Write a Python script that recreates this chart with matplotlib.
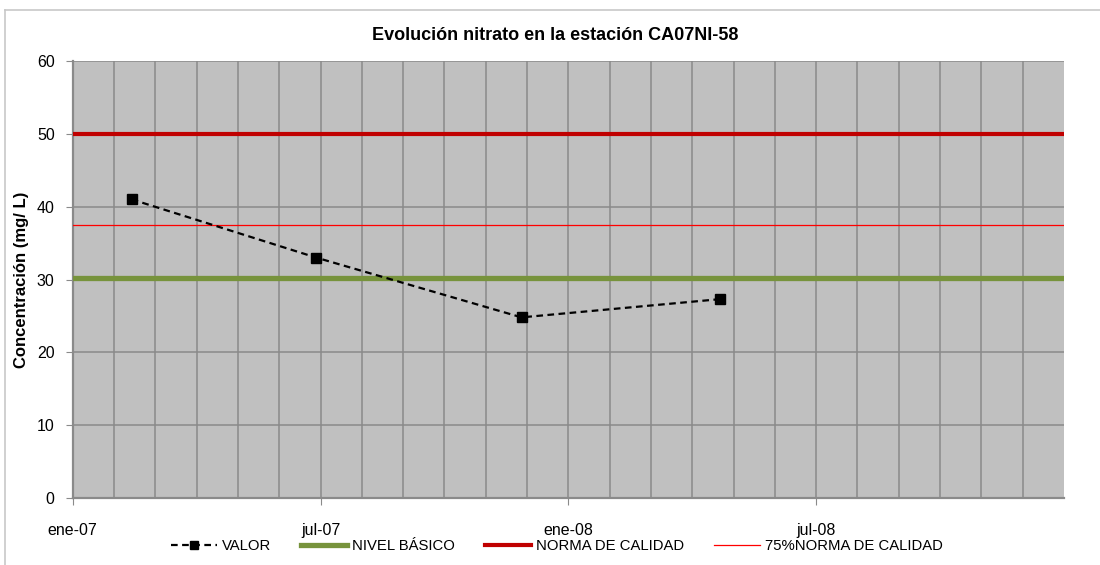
import matplotlib
matplotlib.use("Agg")
import matplotlib.pyplot as plt
from matplotlib.lines import Line2D
from matplotlib.ticker import MultipleLocator, FixedLocator
import calendar

plt.rcParams['font.family'] = ['Liberation Sans', 'DejaVu Sans']

# ---- data ----
fechas = [(2007, 2, 13), (2007, 6, 28), (2007, 11, 27), (2008, 4, 21)]
valor = [41.0, 33.0, 24.8, 27.3]
nivel_basico = 30.2
norma_calidad = 50.0
norma_75 = 37.5
titulo = "Evolución nitrato en la estación CA07NI-58"
ylabel = "Concentración (mg/ L)"
leyenda = ["VALOR", "NIVEL BÁSICO", "NORMA DE CALIDAD", "75%NORMA DE CALIDAD"]
xtick_labels = ["ene-07", "jul-07", "ene-08", "jul-08"]
inicio_anio = 2007
n_meses = 24


def mes_continuo(f):
    y, m, d = f
    return (y - inicio_anio) * 12 + (m - 1) + (d - 1) / calendar.monthrange(y, m)[1]


xs = [mes_continuo(f) for f in fechas]

W, H = 1100, 565
fig = plt.figure(figsize=(W / 100, H / 100), dpi=100)
ax = fig.add_axes([72.7 / W, 1 - 498 / H, (1064 - 72.7) / W, (498 - 61) / H])
ax.set_facecolor('#C0C0C0')

ax.set_xlim(0, n_meses)
ax.set_ylim(0, 60)

ax.xaxis.set_minor_locator(FixedLocator(list(range(0, n_meses))))
ax.xaxis.set_major_locator(FixedLocator([0, 6, 12, 18]))
ax.set_xticklabels(xtick_labels)
ax.grid(True, which='both', axis='x', color='#8A8A8A', linewidth=1.1)
ax.grid(True, which='major', axis='y', color='#8A8A8A', linewidth=1.1)
ax.set_axisbelow(True)
ax.set_yticks(range(0, 61, 10))

ax.tick_params(axis='x', which='minor', length=0)
ax.tick_params(axis='x', which='major', length=5, direction='out', color='#8A8A8A', pad=13, labelsize=11.5)
ax.tick_params(axis='y', length=5, direction='out', color='#8A8A8A', pad=8, labelsize=11.5)

for s in ['top', 'right']:
    ax.spines[s].set_visible(False)
for s in ['left', 'bottom']:
    ax.spines[s].set_color('#8A8A8A')
    ax.spines[s].set_linewidth(1.6)

# reference lines
ax.axhline(norma_calidad, color='#C00000', linewidth=3.0, zorder=3)
ax.axhline(norma_75, color='#FF0000', linewidth=0.9, zorder=3)
ax.axhline(nivel_basico, color='#77933C', linewidth=3.8, zorder=3)

# series
ax.plot(xs, valor, color='black', linestyle=(0, (3, 2)), linewidth=1.6,
        marker='s', markersize=6.5, markerfacecolor='black', markeredgecolor='black', zorder=4)

fig.text(555 / W, 1 - 36 / H, titulo, ha='center', va='center', fontsize=13, fontweight='bold')
fig.text(22 / W, 1 - 280 / H, ylabel, ha='center', va='center', rotation=90, fontsize=12, fontweight='bold')

handles = [
    Line2D([], [], color='black', linestyle=(0, (3, 2)), linewidth=1.6, marker='s', markersize=6),
    Line2D([], [], color='#77933C', linewidth=3.8),
    Line2D([], [], color='#C00000', linewidth=3.0),
    Line2D([], [], color='#FF0000', linewidth=0.9),
]
fig.legend(handles, leyenda, loc='center', bbox_to_anchor=(557 / W, 1 - 546 / H), ncol=4,
           frameon=False, fontsize=10.7, handlelength=3.1, handletextpad=0.35,
           columnspacing=2.0, borderpad=0, borderaxespad=0)

# outer chart border (left/top visible)
fig.add_artist(Line2D([5 / W, 5 / W], [0, 1 - 10 / H], transform=fig.transFigure, color='#C8C8C8', linewidth=1.2))
fig.add_artist(Line2D([5 / W, 1], [1 - 10 / H, 1 - 10 / H], transform=fig.transFigure, color='#C8C8C8', linewidth=1.2))

fig.savefig('out.png', dpi=100, facecolor='white')
